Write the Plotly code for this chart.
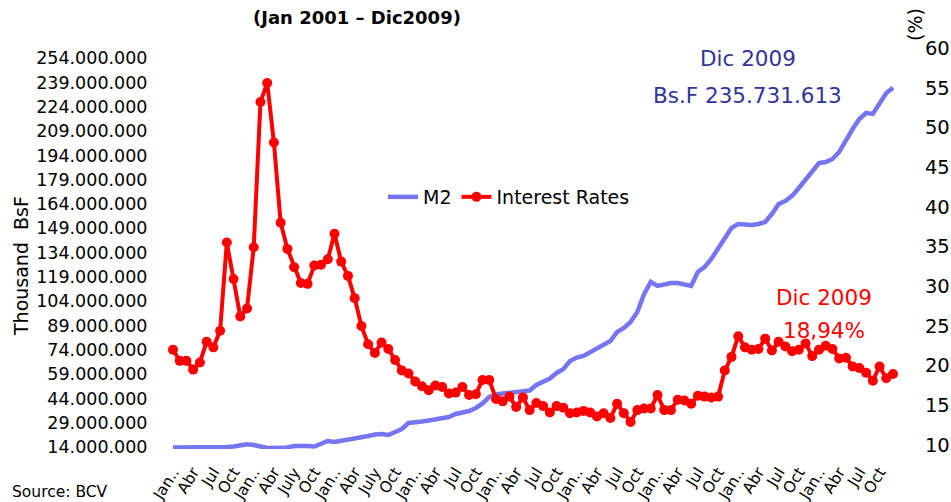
import plotly.graph_objects as go

# ---------------- data ----------------
months = list(range(108))  # Jan 2001 ... Dic 2009

m2_millions = [
    13.7, 13.7, 13.7, 13.4, 13.4, 13.7, 13.7, 13.7, 14.0, 14.3, 14.9, 15.7,
    15.2, 14.3, 13.4, 13.4, 13.4, 13.7, 14.6, 14.9, 14.6, 14.3, 15.9, 17.7,
    17.1, 17.7, 18.3, 18.9, 19.9, 20.8, 21.7, 22.0, 21.4, 23.3, 25.1, 28.8,
    29.0, 29.7, 30.4, 31.0, 31.6, 32.5, 34.4, 35.3, 36.2, 38.1, 40.9, 44.9,
    46.4, 47.0, 47.6, 48.1, 48.6, 48.9, 52.3, 54.4, 56.3, 59.7, 62.1, 67.1,
    69.2, 70.2, 72.6, 74.5, 77.0, 79.4, 85.0, 87.5, 91.2, 97.3, 108.4, 115.9,
    113.4, 114.6, 115.2, 115.2, 114.6, 113.4, 122.0, 125.1, 130.1, 136.2, 143.0, 149.2,
    151.7, 151.0, 151.0, 151.7, 152.9, 157.8, 164.0, 165.9, 169.0, 173.9, 178.8, 183.8,
    189.3, 189.9, 191.8, 196.1, 203.5, 210.3, 216.5, 220.2, 219.6, 225.7, 232.5, 235.731613,
]
m2 = [v * 1e6 for v in m2_millions]  # thousand BsF

interest = [
    22.0, 20.6, 20.6, 19.5, 20.4, 23.0, 22.3, 24.4, 35.5, 30.9, 26.2, 27.2,
    34.9, 53.2, 55.6, 48.1, 38.0, 34.7, 32.4, 30.4, 30.3, 32.6, 32.7, 33.4,
    36.6, 33.1, 31.3, 28.5, 25.0, 22.7, 21.6, 22.9, 22.1, 20.7, 19.4, 19.0,
    18.0, 17.4, 16.9, 17.5, 17.3, 16.5, 16.6, 17.3, 16.3, 16.4, 18.2, 18.2,
    15.8, 15.5, 16.1, 14.8, 16.0, 14.4, 15.3, 14.9, 14.1, 14.9, 14.7, 14.0,
    14.1, 14.3, 14.1, 13.6, 14.0, 13.4, 15.2, 14.0, 12.9, 14.4, 14.6, 14.6,
    16.3, 14.4, 14.4, 15.7, 15.6, 15.2, 16.2, 16.1, 16.0, 16.1, 19.4, 21.1,
    23.7, 22.3, 22.0, 22.1, 23.4, 21.9, 23.0, 22.4, 21.8, 22.0, 22.8, 21.2,
    22.0, 22.5, 22.1, 20.9, 21.0, 19.9, 19.7, 19.1, 18.1, 19.9, 18.4, 18.94,
]

x_tickvals = list(range(0, 108, 3))
x_ticktext = [
    "Jan..", "Abr", "Jul", "Oct", "Jan..", "Abr", "July", "Oct", "Jan..", "Abr", "July", "Oct",
    "Jan..", "Abr", "Jul", "Oct", "Jan..", "Abr", "Jul", "Oct", "Jan..", "Abr", "Jul", "Oct",
    "Jan..", "Abr", "Jul", "Oct", "Jan..", "Abr", "Jul", "Oct", "Jan..", "Abr", "Jul", "Oct",
]
left_tick_millions = list(range(14, 255, 15))
left_tickvals = [v * 1e6 for v in left_tick_millions]
left_ticktext = ["{:,}".format(v * 1000000).replace(",", ".") for v in left_tick_millions]
right_tickvals = list(range(10, 61, 5))

# ---------------- layout geometry ----------------
W, H = 951, 502
L, R, T, B = 160, 905, 48, 449


def px(xp):
    return (xp - L) / (R - L)


def py(yp):
    return (B - yp) / (B - T)


FONT = "DejaVu Sans"
BLUE_TXT = "#333399"
RED = "#ff0000"

fig = go.Figure()
fig.add_trace(go.Scatter(
    x=months, y=m2, name="M2", mode="lines",
    line=dict(color="#7575f2", width=4.5),
    yaxis="y",
))
fig.add_trace(go.Scatter(
    x=months, y=interest, name="Interest Rates", mode="lines+markers",
    line=dict(color=RED, width=4),
    marker=dict(color=RED, size=10),
    yaxis="y2",
))

fig.update_layout(
    width=W, height=H,
    margin=dict(l=L, r=W - R, t=T, b=H - B, pad=0, autoexpand=False),
    paper_bgcolor="white", plot_bgcolor="white",
    font=dict(family=FONT, color="black"),
    showlegend=True,
    legend=dict(
        orientation="h", x=px(383), y=py(197), xanchor="left", yanchor="middle",
        font=dict(size=19, family=FONT, color="black"),
        bgcolor="rgba(0,0,0,0)", itemwidth=30, tracegroupgap=0,
    ),
    xaxis=dict(
        range=[-1.93, 108.78], tickmode="array", tickvals=x_tickvals, ticktext=x_ticktext,
        tickangle=-58, tickfont=dict(size=15.5, family=FONT, color="black"),
        showgrid=False, zeroline=False, showline=False, automargin=False,
        ticks="outside", ticklen=7, tickcolor="rgba(0,0,0,0)",
    ),
    yaxis=dict(
        range=[12.77e6, 260.3e6], tickmode="array", tickvals=left_tickvals, ticktext=left_ticktext,
        tickfont=dict(size=17.5, family=FONT, color="black"),
        showgrid=False, zeroline=False, showline=False, automargin=False,
        ticks="outside", ticklen=8, tickcolor="rgba(0,0,0,0)",
    ),
    yaxis2=dict(
        range=[9.5, 60], overlaying="y", side="right", tickmode="array", tickvals=right_tickvals,
        tickfont=dict(size=19.5, family=FONT, color="black"),
        showgrid=False, zeroline=False, showline=False, automargin=False,
        ticks="outside", ticklen=15, tickcolor="rgba(0,0,0,0)",
    ),
)

ann = [
    dict(text="<b>(Jan 2001 – Dic2009)</b>", x=px(357), y=py(17), font=dict(size=18, color="black")),
    dict(text="Source: BCV", x=px(10), y=py(492), xanchor="left", font=dict(size=15.5, color="black")),
    dict(text="Thousand  BsF", x=px(21), y=py(266), textangle=-90, font=dict(size=19, color="black")),
    dict(text="(%)", x=px(915), y=py(25), textangle=-90, font=dict(size=19, color="black")),
    dict(text="Dic 2009", x=px(748), y=py(58), font=dict(size=21.5, color=BLUE_TXT)),
    dict(text="Bs.F 235.731.613", x=px(747), y=py(95), font=dict(size=21.5, color=BLUE_TXT)),
    dict(text="Dic 2009", x=px(824), y=py(297), font=dict(size=21.5, color=RED)),
    dict(text="18,94%", x=px(824), y=py(330), font=dict(size=21.5, color=RED)),
]
for a in ann:
    a.setdefault("xanchor", "center")
    a.update(xref="paper", yref="paper", yanchor="middle", showarrow=False)
    a["font"]["family"] = FONT
    fig.add_annotation(**a)

fig.write_html(
    "out.html",
    config={"displayModeBar": False},
    post_script="document.body.style.margin='0px';document.body.style.overflow='hidden';",
)
